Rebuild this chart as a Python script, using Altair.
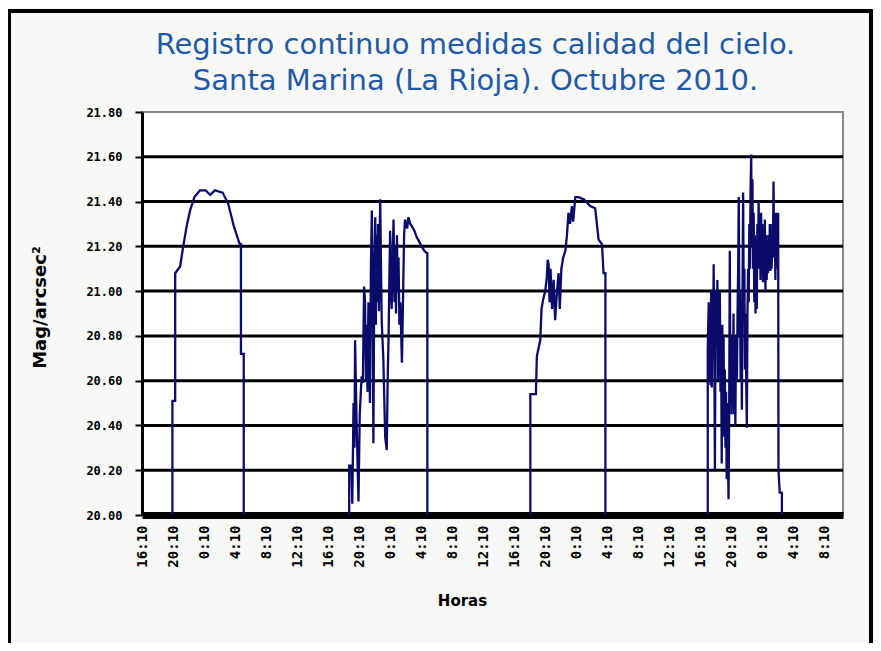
import altair as alt
import pandas as pd

# x positions in tick-label units (one label every 4 hours), y in mag/arcsec^2
tick_labels = ["16:10", "20:10", "0:10", "4:10", "8:10", "12:10",
               "16:10", "20:10", "0:10", "4:10", "8:10", "12:10",
               "16:10", "20:10", "0:10", "4:10", "8:10", "12:10",
               "16:10", "20:10", "0:10", "4:10", "8:10"]
y_ticks = [20.0, 20.2, 20.4, 20.6, 20.8, 21.0, 21.2, 21.4, 21.6, 21.8]
grid_values = [20.2, 20.4, 20.6, 20.8, 21.0, 21.2, 21.4, 21.6]

night1_x = [0.98, 0.98, 1.07, 1.07, 1.23, 1.33, 1.44, 1.55, 1.69, 1.87, 2.05, 2.2, 2.35, 2.6,
            2.78, 2.96, 3.15, 3.19, 3.19, 3.28, 3.28]
night1_y = [20.0, 20.51, 20.51, 21.08, 21.11, 21.20, 21.29, 21.36, 21.42, 21.45, 21.45, 21.43, 21.45, 21.44,
            21.39, 21.29, 21.21, 21.21, 20.72, 20.72, 20.0]

night2_x = [6.68, 6.68, 6.75, 6.78, 6.82, 6.85, 6.87, 6.92, 6.98, 7.02, 7.08, 7.12, 7.16, 7.19, 7.22, 7.24,
            7.27, 7.3, 7.33, 7.35, 7.38, 7.41, 7.44, 7.46, 7.49, 7.52, 7.54, 7.56, 7.59, 7.61, 7.64, 7.66,
            7.68, 7.71, 7.73, 7.78, 7.84, 7.89, 7.92, 7.95, 7.98, 8.0, 8.03, 8.05, 8.08, 8.11, 8.14, 8.16,
            8.19, 8.22, 8.24, 8.27, 8.30, 8.33, 8.38, 8.41, 8.45, 8.48, 8.55, 8.59, 8.65, 8.70, 8.78, 8.86,
            8.94, 9.02, 9.1, 9.18, 9.2, 9.2]
night2_y = [20.0, 20.22, 20.22, 20.05, 20.50, 20.30, 20.78, 20.40, 20.06, 20.45, 20.62, 20.59, 21.02, 20.95,
            20.60, 20.85, 20.55, 20.95, 20.70, 20.50, 21.10, 21.36, 20.90, 20.32, 21.10, 21.33, 20.85, 21.25,
            20.95, 21.30, 20.91, 21.20, 21.41, 21.05, 20.86, 20.70, 20.35, 20.29, 20.60, 20.80, 21.10, 21.27,
            21.0, 20.92, 21.15, 21.32, 20.95, 21.20, 20.90, 21.25, 21.0, 21.15, 20.85, 20.95, 20.68, 20.92,
            21.25, 21.32, 21.28, 21.33, 21.30, 21.29, 21.27, 21.24, 21.22, 21.20, 21.18, 21.17, 21.17, 20.0]

night3_x = [12.52, 12.52, 12.70, 12.73, 12.84, 12.88, 12.93, 13.0, 13.05, 13.08, 13.11, 13.14, 13.17, 13.22,
            13.27, 13.32, 13.38, 13.43, 13.47, 13.52, 13.58, 13.65, 13.7, 13.75, 13.8, 13.86, 13.9, 13.97,
            14.07, 14.24, 14.45, 14.61, 14.72, 14.83, 14.88, 14.94, 14.94]
night3_y = [20.0, 20.54, 20.54, 20.71, 20.78, 20.92, 20.96, 21.0, 21.06, 21.14, 21.12, 20.95, 21.10, 20.92,
            21.05, 20.87, 21.0, 21.08, 20.92, 21.10, 21.15, 21.18, 21.25, 21.35, 21.30, 21.38, 21.31, 21.42,
            21.42, 21.41, 21.38, 21.37, 21.23, 21.21, 21.08, 21.08, 20.0]

night4_x = [18.24, 18.24, 18.27, 18.29, 18.31, 18.33, 18.35, 18.37, 18.39, 18.41, 18.43, 18.45, 18.47, 18.49,
            18.51, 18.53, 18.55, 18.57, 18.59, 18.61, 18.63, 18.65, 18.67, 18.69, 18.71, 18.73, 18.75, 18.77,
            18.79, 18.81, 18.83, 18.85, 18.87, 18.89, 18.91, 18.93, 18.95, 18.97, 18.99, 19.01, 19.03, 19.05,
            19.07, 19.09, 19.11, 19.13, 19.15, 19.18, 19.20, 19.22, 19.24, 19.26, 19.28, 19.30, 19.32, 19.34,
            19.36, 19.38, 19.40, 19.42, 19.44, 19.46, 19.48, 19.50, 19.52, 19.54, 19.56, 19.58, 19.60, 19.62,
            19.64, 19.66, 19.68, 19.70, 19.72, 19.74, 19.76, 19.78, 19.80, 19.82, 19.84, 19.86, 19.88, 19.90,
            19.92, 19.94, 19.96, 19.98, 20.00, 20.02, 20.04, 20.06, 20.08, 20.10, 20.12, 20.14, 20.16, 20.18,
            20.20, 20.22, 20.24, 20.26, 20.28, 20.30, 20.32, 20.34, 20.36, 20.38, 20.40, 20.42, 20.44, 20.46,
            20.48, 20.50, 20.51, 20.52, 20.56, 20.63, 20.63]
night4_y = [20.0, 20.74, 20.95, 20.60, 20.90, 20.58, 21.00, 20.57, 20.95, 20.70, 21.12, 20.80, 20.20, 20.85,
            21.00, 20.75, 21.05, 20.60, 20.95, 20.65, 21.00, 20.55, 20.80, 20.23, 20.85, 20.50, 20.80, 20.35,
            20.65, 20.30, 20.55, 20.16, 20.50, 20.25, 20.07, 20.45, 21.18, 20.55, 20.75, 20.45, 20.80, 20.50,
            20.90, 20.45, 20.70, 20.40, 20.80, 20.60, 20.90, 21.10, 21.42, 20.80, 21.00, 20.60, 20.90, 20.47,
            21.00, 21.44, 20.90, 21.10, 20.65, 20.90, 20.60, 20.39, 20.90, 21.10, 20.95, 21.30, 21.10, 21.45,
            21.61, 21.20, 21.50, 21.10, 21.35, 20.95, 21.25, 20.90, 21.15, 20.92, 21.30, 21.10, 21.40, 21.15,
            21.30, 21.05, 21.35, 21.10, 21.30, 21.04, 21.25, 21.05, 21.32, 21.00, 21.25, 21.05, 21.20, 21.08,
            21.25, 21.10, 21.30, 21.09, 21.20, 21.10, 21.30, 21.15, 21.49, 21.15, 21.30, 21.05, 21.35, 21.20,
            21.30, 21.10, 21.35, 20.20, 20.10, 20.10, 20.0]

rows = []
for name, xs, ys in [("n1", night1_x, night1_y), ("n2", night2_x, night2_y),
                     ("n3", night3_x, night3_y), ("n4", night4_x, night4_y)]:
    for i, (a, b) in enumerate(zip(xs, ys)):
        rows.append({"x": a, "y": b, "night": name, "ord": i})
df = pd.DataFrame(rows)
grid_df = pd.DataFrame({"g": grid_values})

label_expr = "[" + ",".join(f"'{t}'" for t in tick_labels) + "][round(datum.value)]"

x_scale = alt.Scale(domain=[0, 22.6], nice=False, zero=False)
y_scale = alt.Scale(domain=[20.0, 21.8], nice=False, zero=False)

x_axis = alt.Axis(
    title="Horas", values=list(range(len(tick_labels))), labelExpr=label_expr,
    labelAngle=270, labelAlign="right", labelBaseline="middle", labelPadding=10,
    labelFont="DejaVu Sans Mono", labelFontWeight="bold", labelFontSize=14, labelColor="black",
    ticks=False, domainColor="black", domainWidth=7, grid=False,
    titleFont="DejaVu Sans", titleFontWeight="bold", titleFontSize=15, titleColor="black",
    titleX=320, titleY=85, titleBaseline="middle", titleAlign="center",
)
y_axis = alt.Axis(
    title="Mag/arcsec²", values=y_ticks, format=".2f",
    labelFont="DejaVu Sans Mono", labelFontWeight="bold", labelFontSize=12, labelColor="black",
    labelPadding=13, tickSize=7, tickColor="black", tickWidth=2,
    domainColor="black", domainWidth=3, grid=False,
    titleFont="DejaVu Sans", titleFontWeight="bold", titleFontSize=18, titleColor="black",
    titleX=-102, titleY=195, titleAngle=270, titleAlign="center", titleBaseline="middle",
)

frame = alt.Chart(grid_df).mark_rect(filled=False, stroke="black", strokeWidth=3, clip=False).encode(
    x=alt.value(-133), x2=alt.value(729), y=alt.value(-101), y2=alt.value(560)
)

grid = alt.Chart(grid_df).mark_rule(color="black", strokeWidth=3).encode(
    y=alt.Y("g:Q", scale=y_scale, axis=y_axis)
)

line = alt.Chart(df).mark_line(color="#0b0b6b", strokeWidth=2.3).encode(
    x=alt.X("x:Q", scale=x_scale, axis=x_axis),
    y=alt.Y("y:Q", scale=y_scale, axis=y_axis),
    detail="night:N",
    order="ord:Q",
)

chart = alt.layer(frame, grid, line).properties(
    width=701, height=403,
    autosize=alt.AutoSizeParams(type="none"),
    padding={"left": 134, "top": 104, "right": 30, "bottom": 128},
    background="#f8f8f7",
    title=alt.TitleParams(
        text=["Registro continuo medidas calidad del cielo.", "Santa Marina (La Rioja). Octubre 2010."],
        color="#1f5aa6", font="DejaVu Sans", fontSize=29, fontWeight="normal",
        lineHeight=36, anchor="middle", offset=0, dx=-17, dy=86,
    ),
).configure_view(
    fill="white", stroke="#8a8a8a", strokeWidth=2
)

chart.save("out.html", embed_options={"renderer": "svg", "actions": False})
